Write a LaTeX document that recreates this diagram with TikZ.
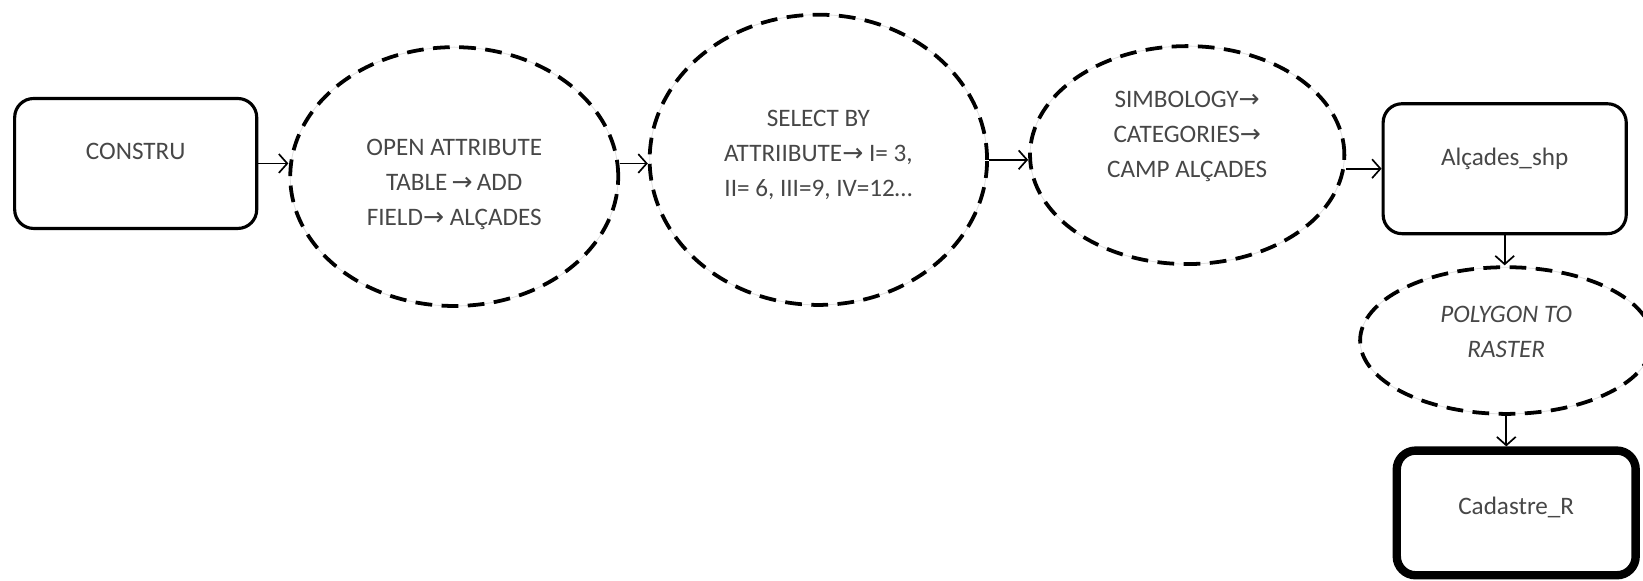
\documentclass[tikz,border=0pt]{standalone}
\usepackage{fontspec}
\setmainfont{Carlito}
\newfontfamily\arrowfont{DejaVu Sans}
\usetikzlibrary{shapes.geometric,arrows.meta}
\newcommand{\toarrow}{{\arrowfont →}}

\begin{document}
\begin{tikzpicture}[x=0.5pt, y=-0.5pt, % pixel grid, y downwards
  font=\fontsize{12}{16.75}\selectfont, text=black!72,
  procbox/.style={draw, line width=1.5pt, rounded corners=9pt, align=center,
    inner sep=0pt, minimum width=115.5pt, minimum height=62pt},
  toolell/.style={ellipse, draw, line width=1.8pt, dash pattern=on 8pt off 4.5pt,
    preaction={draw=black!12, line width=0.4pt, solid}, inner sep=0pt, align=center},
  flow/.style={-{Straight Barb[length=4pt,width=9pt]}, line width=0.8pt}]
  \useasboundingbox (0,0) rectangle (1568,554);

  % main chain, left to right
  \node[procbox, text depth=12pt] (constru) at (129.5,156) {CONSTRU};
  \node[toolell, minimum width=156.5pt, minimum height=123.5pt, text height=49pt] (attrib) at (433.5,168.5)
    {OPEN ATTRIBUTE\\ TABLE\,\toarrow\,ADD\\ FIELD\toarrow\ ALÇADES};
  \node[toolell, minimum width=161pt, minimum height=138.5pt, text depth=6pt] (select) at (781,152.5)
    {SELECT BY\\ ATTRIIBUTE\toarrow\ I= 3,\\ II= 6, III=9, IV=12\dots};
  \node[toolell, minimum width=150pt, minimum height=104pt, text depth=20pt] (symb) at (1133,148)
    {SIMBOLOGY\toarrow\\ CATEGORIES\toarrow\\ CAMP ALÇADES};
  \node[procbox, minimum width=116pt, text depth=11pt] (alc) at (1436,161) {Alçades\_shp};

  % down the right side
  \node[toolell, minimum width=139.5pt, minimum height=70pt, text depth=8pt,
    font=\fontsize{12}{16.75}\selectfont\itshape] (poly) at (1437.5,325) {POLYGON TO\\ RASTER};
  \node[procbox, line width=4pt, minimum width=114pt, minimum height=59.5pt,
    text depth=7pt] (cad) at (1447,489.5) {Cadastre\_R};

  % connectors
  \draw[flow] (constru.east) -- (constru.east -| attrib.west);
  \draw[flow] (attrib.east |- constru.east) -- (select.west |- constru.east);
  \draw[flow] (select.east) -- (select.east -| symb.west);
  \draw[flow] (symb.east |- alc.west) -- (alc.west);
  \draw[flow] (alc.south) -- (alc.south |- poly.north);
  \draw[flow] (poly.south) -- (poly.south |- cad.north);
\end{tikzpicture}
\end{document}
